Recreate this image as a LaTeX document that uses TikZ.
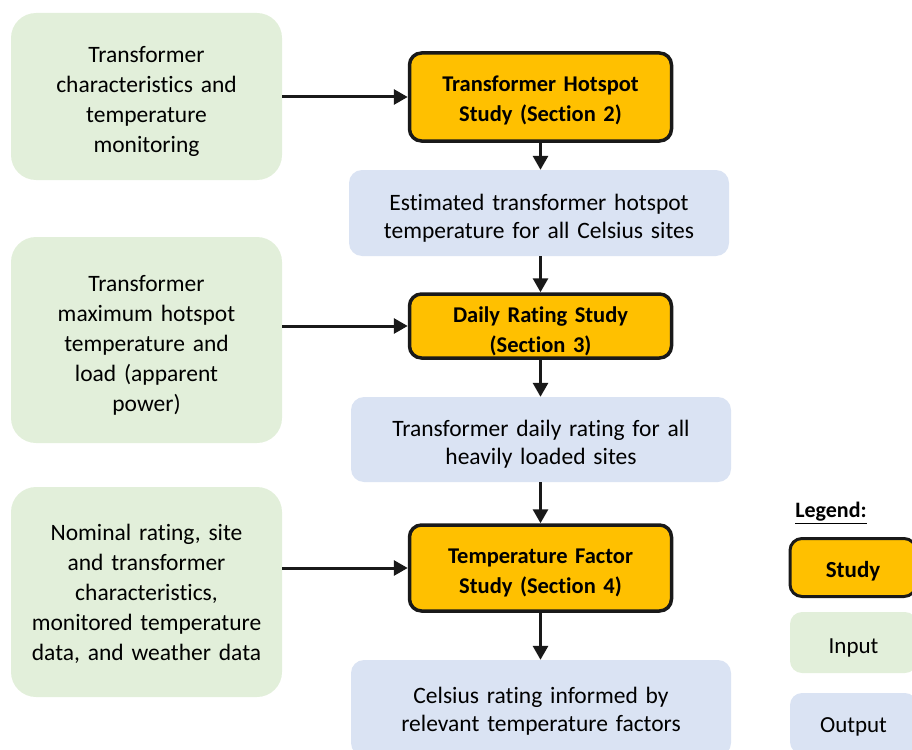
\documentclass[tikz,border=0pt]{standalone}
\usepackage{fontspec}
\setmainfont{Carlito}[Ligatures=NoCommon]
\usetikzlibrary{arrows.meta}
\definecolor{ingreen}{HTML}{E2EFDA}
\definecolor{outblue}{HTML}{DAE3F3}
\definecolor{studyorange}{HTML}{FFC000}
\tikzset{
  inbox/.style={fill=ingreen, draw=none, rounded corners=25pt, minimum width=271pt, inner sep=0pt},
  outbox/.style={fill=outblue, draw=none, rounded corners=13pt, minimum width=380pt, inner sep=0pt},
  studybox/.style={fill=studyorange, draw=black!90, line width=3.5pt, rounded corners=12pt, minimum width=262pt, inner sep=0pt},
  intext/.style={align=center, text width=260pt, inner sep=0pt, font=\fontsize{23.5}{30}\selectfont},
  outtext/.style={align=center, text width=370pt, inner sep=0pt, font=\fontsize{23.5}{28}\selectfont},
  studytext/.style={align=center, text width=250pt, inner sep=0pt, font=\bfseries\fontsize{22.5}{30}\selectfont},
  flow/.style={line width=3pt, draw=black!90, -{Triangle[length=14pt,width=15pt]}}
}
\begin{document}
\begin{tikzpicture}[x=1pt,y=-1pt]
\useasboundingbox (0,0) rectangle (912,749);
% inputs
\node[inbox, minimum height=167pt] (in1) at (146.5,96.5) {};
\node[intext] (in1t) at (146.5,101) {Transformer\\characteristics and\\temperature\\monitoring};
\node[inbox, minimum height=206pt] (in2) at (146.5,340) {};
\node[intext] (in2t) at (146.5,345) {Transformer\\maximum hotspot\\temperature and\\load (apparent\\power)};
\node[inbox, minimum height=210pt] (in3) at (146.5,592) {};
\node[intext] (in3t) at (146.5,594) {Nominal rating, site\\and transformer\\characteristics,\\monitored temperature\\data, and weather data};
% studies
\node[studybox, minimum height=88pt] (st1) at (540.5,97) {};
\node[studytext] (st1t) at (540.5,100) {Transformer Hotspot\\Study (Section 2)};
\node[studybox, minimum height=64pt] (st2) at (540.5,326) {};
\node[studytext] (st2t) at (540.5,331) {Daily Rating Study\\(Section 3)};
\node[studybox, minimum height=86pt] (st3) at (540.5,568) {};
\node[studytext] (st3t) at (540.5,573) {Temperature Factor\\Study (Section 4)};
% outputs
\node[outbox, minimum height=86pt] (out1) at (539,213) {};
\node[outtext] (out1t) at (539,218) {Estimated transformer hotspot\\temperature for all Celsius sites};
\node[outbox, minimum height=85pt] (out2) at (541,439.5) {};
\node[outtext] (out2t) at (541,444.5) {Transformer daily rating for all\\heavily loaded sites};
\node[outbox, minimum height=96pt] (out3) at (541,708) {};
\node[outtext] (out3t) at (541,711) {Celsius rating informed by\\relevant temperature factors};
% connectors
\draw[flow] (st1.west -| in1.east) -- (st1.west);
\draw[flow] (st2.west -| in2.east) -- (st2.west);
\draw[flow] (st3.west -| in3.east) -- (st3.west);
\draw[flow] (st1.south) -- (st1.south |- out1.north);
\draw[flow] (out1.south -| st2.north) -- (st2.north);
\draw[flow] (st2.south) -- (st2.south |- out2.north);
\draw[flow] (out2.south -| st3.north) -- (st3.north);
\draw[flow] (st3.south) -- (st3.south |- out3.north);
% legend
\node[font=\bfseries\fontsize{22}{24}\selectfont, inner sep=0pt] (legtitle) at (831,513) {\underline{Legend:}};
\node[studybox, minimum width=126pt, minimum height=58pt, line width=3pt] (legstudy) at (853,567.5) {};
\node[font=\bfseries\fontsize{23}{26}\selectfont, inner sep=0pt] (legstudyt) at (853,571) {Study};
\node[inbox, rounded corners=12pt, minimum width=127pt, minimum height=61pt] (legin) at (853.5,642.5) {};
\node[font=\fontsize{23}{26}\selectfont, inner sep=0pt] (legint) at (853.5,648) {Input};
\node[outbox, rounded corners=12pt, minimum width=127pt, minimum height=61pt] (legout) at (853.5,723.5) {};
\node[font=\fontsize{23}{26}\selectfont, inner sep=0pt] (legoutt) at (853.5,727) {Output};
\end{tikzpicture}
\end{document}
